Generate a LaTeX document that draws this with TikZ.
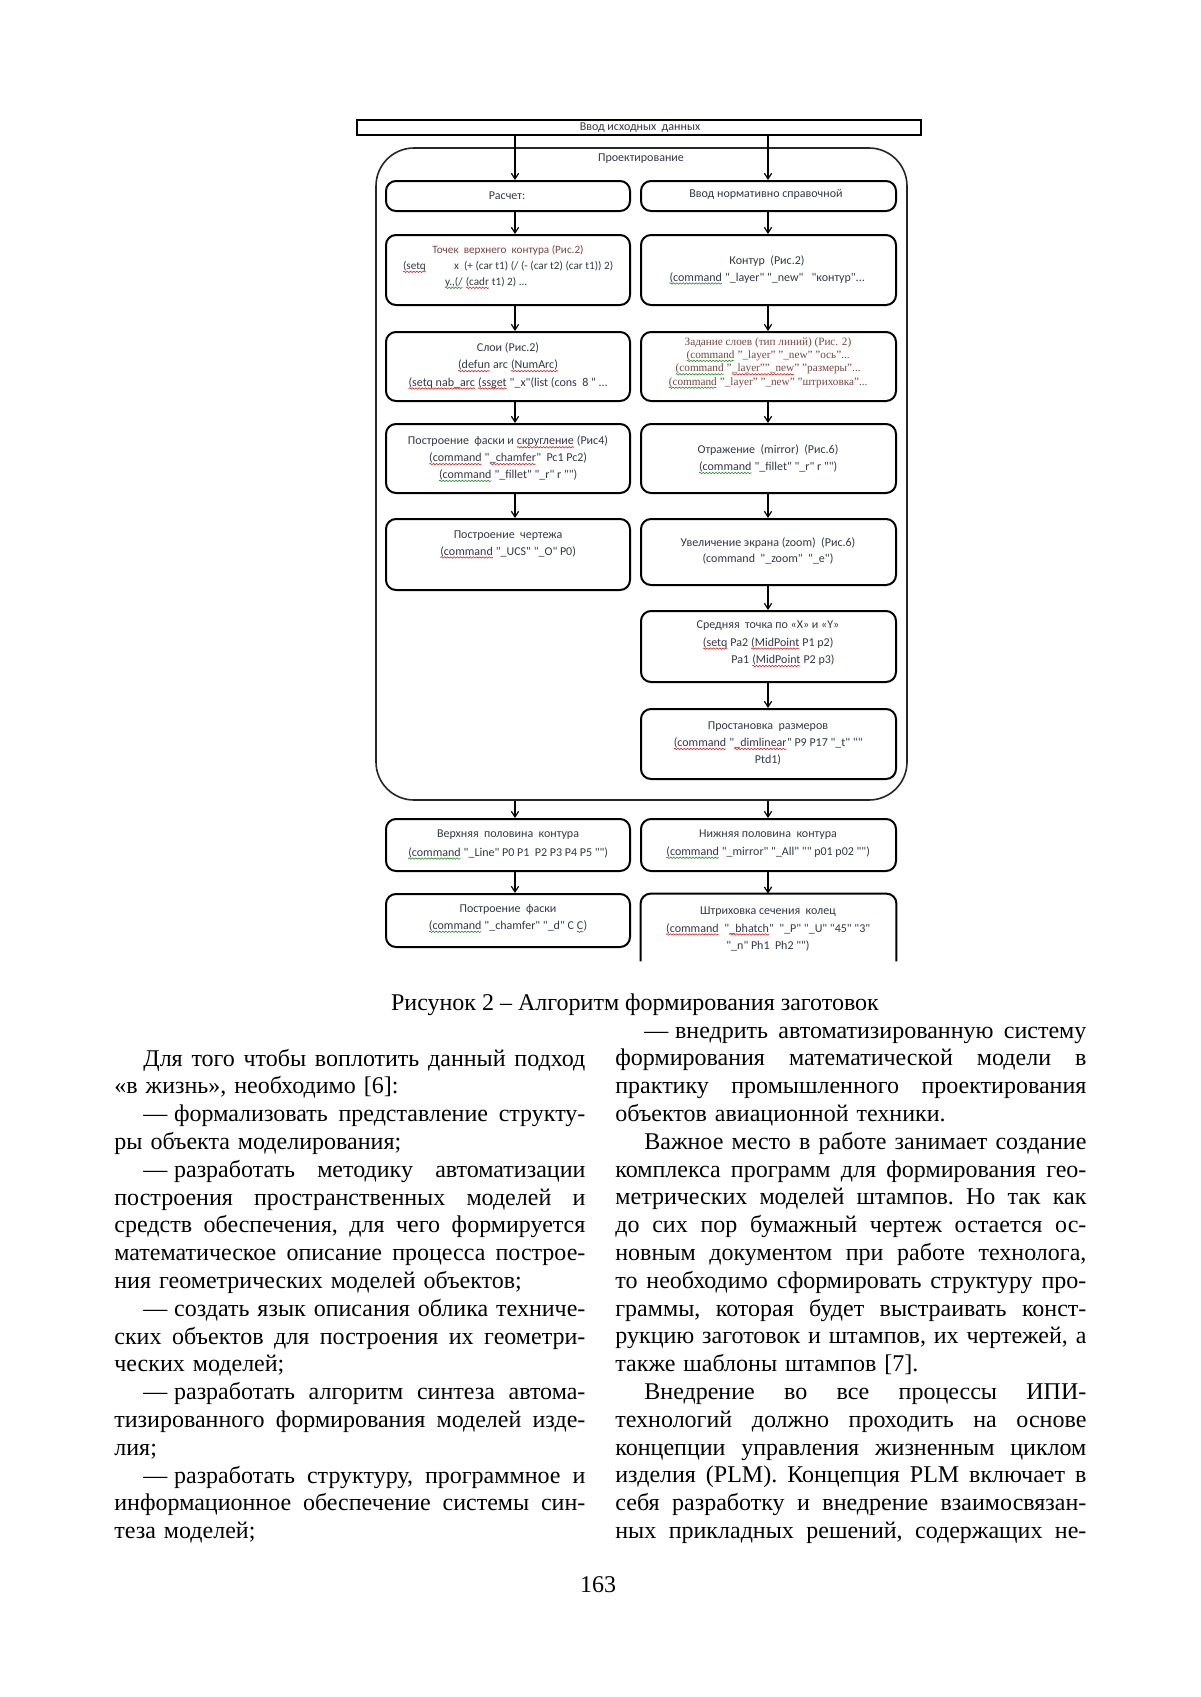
\documentclass[tikz,border=0pt]{standalone}
\usepackage{fontspec}
\setmainfont{Liberation Serif}
\newfontfamily\dfont{Carlito}
\usetikzlibrary{arrows.meta,decorations.pathmorphing}
\definecolor{dtc}{RGB}{50,55,75}
\definecolor{brn}{RGB}{120,70,60}
\definecolor{wgrn}{RGB}{40,140,40}
\definecolor{wred}{RGB}{225,30,30}
\newcommand\wv[2]{\tikz[baseline=(w.base),x=1pt,y=1pt]{\node[inner sep=0pt,outer sep=0pt] (w) {#2};\draw[#1,line width=0.3pt,decorate,decoration={snake,amplitude=0.35pt,segment length=1.6pt}] ([yshift=-1.2pt]w.base west) -- ([yshift=-1.2pt]w.base east);}}
\newcommand\rw[1]{\wv{wred}{#1}}
\newcommand\gw[1]{\wv{wgrn}{#1}}
\newlength\cw \setlength\cw{235.5pt}
\newlength\ind \setlength\ind{14.5pt}
\newcommand\jl[1]{\leavevmode\hbox to \cw{\spaceskip=0.25em plus 3em minus 0.08em\xspaceskip=\spaceskip\relax #1}}
\newcommand\ji[1]{\leavevmode\hspace*{\ind}\hbox to \dimexpr\cw-\ind\relax{\spaceskip=0.25em plus 3em minus 0.08em\xspaceskip=\spaceskip\relax #1}}
\newcommand\dsh{—\kern0.28em}
\newcommand\bx[5]{\node[box, minimum width={(#4-#2)*0.5pt}, minimum height={(#5-#3)*0.5pt}] (#1) at ({(#2+#4)/2},{(#3+#5)/2}) {};}
\tikzset{
  box/.style={draw=black, line width=1pt, rounded corners=5pt, inner sep=0pt},
  dtext/.style={font=\dfont\fontsize{6}{8.4}\selectfont, text=dtc, align=center, inner sep=0pt},
  stext/.style={font=\rmfamily\fontsize{5.6}{6.7}\selectfont, text=brn, align=center, inner sep=0pt},
  arr/.style={-{Straight Barb[length=2.8pt,width=3.6pt]}, line width=0.6pt},
  col/.style={anchor=base west, text width=\cw, inner sep=0pt, align=left, font=\fontsize{12}{13.9}\selectfont\frenchspacing},
}
\begin{document}
\begin{tikzpicture}[x=0.5pt,y=-0.5pt]
\fill[white] (0,0) rectangle (1200,1697);
\useasboundingbox (0,0) rectangle (1200,1697);
% top input box
\node[draw=black, line width=1.3pt, inner sep=0pt, minimum width={(921-357)*0.5pt}, minimum height={(135-120)*0.5pt}] (inp) at (639,127.5) {};
\node[dtext] (inpt) at (640,128) {Ввод исходных\ \ данных};
% container
\node[draw=black!85, line width=0.8pt, rounded corners=19pt, inner sep=0pt, minimum width={(907-376)*0.5pt}, minimum height={(800-148)*0.5pt}] (proj) at (641.5,474) {};
\node[dtext] (projt) at (641,159) {Проектирование};
% boxes
\bx{r1l}{386}{181}{630}{211}
\bx{r1r}{641}{181}{896}{211}
\bx{r2l}{386}{235}{630}{305}
\bx{r2r}{641}{235}{896}{305}
\bx{r3l}{386}{332}{630}{401}
\bx{r3r}{641}{332}{896}{401}
\bx{r4l}{386}{424}{630}{493}
\bx{r4r}{641}{424}{896}{493}
\bx{r5l}{386}{519}{630}{590}
\bx{r5r}{641}{519}{896}{585}
\bx{r6r}{641}{611}{896}{682}
\bx{r7r}{641}{709}{896}{779}
\bx{r8l}{386}{819}{630}{871}
\bx{r8r}{641}{819}{896}{871}
\bx{r9l}{386}{894}{630}{947}
\node[inner sep=0pt, minimum width={(896-641)*0.5pt}, minimum height={(961-894)*0.5pt}] (r9r) at (768.5,927.5) {};
\draw[line width=1pt, rounded corners=5pt] (r9r.south west) -- (r9r.north west) -- (r9r.north east) -- (r9r.south east);
% texts
\node[dtext] (t1l) at (507,196) {Расчет:};
\node[dtext] (t1r) at (766,194) {Ввод нормативно справочной};
\node[dtext, font=\dfont\fontsize{5.6}{8}\selectfont] (t2l) at (508,267) {\textcolor{brn}{Точек\ \ верхнего\ \ контура (Рис.2)}\\ \rw{(setq}\hspace{14pt}x\ \ (+ (car t1) (/ (- (car t2) (car t1)) 2)\\ \gw{y.,(/} \rw{(cadr} t1) 2) ...\hspace*{22pt}};
\node[dtext] (t2r) at (767,270) {Контур\ \ (Рис.2)\\ \gw{(command} "\_layer" "\_new"\ \ \ "контур"...};
\node[dtext, font=\dfont\fontsize{6}{8.7}\selectfont] (t3l) at (508,366) {Слои (Рис.2)\\ \rw{(defun} arc \rw{(NumArc)}\\ \rw{(setq nab\_arc} \rw{(ssget} "\_x"(list (cons\ \ 8 " ...};
\node[stext] (t3r) at (768,363) {Задание слоев (тип линий) (Рис. 2)\\ \gw{(command} "\_layer" "\_new" "ось"...\\ \gw{(command} "\rw{\_layer""\_new}" "размеры"...\\ \gw{(command} "\_layer" "\_new" "штриховка"...};
\node[dtext] (t4l) at (508,459) {Построение\ \ фаски и \rw{скругление} (Рис4)\\ \rw{(command} "\rw{\_chamfer}"\ \ Pc1 Pc2)\\ \gw{(command} "\_fillet" "\_r" r "")};
\node[dtext] (t4r) at (768,459.5) {Отражение\ \ (mirror)\ \ (Рис.6)\\ \gw{(command} "\_fillet" "\_r" r "")};
\node[dtext] (t5l) at (508,544.5) {Построение\ \ чертежа\\ \rw{(command} "\_UCS" "\_O" P0)};
\node[dtext] (t5r) at (768,551) {Увеличение экрана (zoom)\ \ (Рис.6)\\ (command\ \ "\_zoom"\ \ "\_e")};
\node[dtext, font=\dfont\fontsize{6}{8.7}\selectfont] (t6r) at (768,644) {Средняя\ \ точка по «X» и «Y»\\ \rw{(setq} Pa2 \rw{(MidPoint} P1 p2)\\ \hspace*{15pt}Pa1 \rw{(MidPoint} P2 p3)};
\node[dtext, font=\dfont\fontsize{6}{8.7}\selectfont] (t7r) at (768,743.5) {Простановка\ \ размеров\\ \rw{(command} "\rw{\_dimlinear}" P9 P17 "\_t" ""\\ Ptd1)};
\node[dtext, font=\dfont\fontsize{6}{9.5}\selectfont] (t8l) at (508,844.5) {Верхняя\ \ половина\ \ контура\\ \gw{(command} "\_Line" P0 P1\ \ P2 P3 P4 P5 "")};
\node[dtext, font=\dfont\fontsize{6}{8.7}\selectfont] (t8r) at (768,844.5) {Нижняя половина\ \ контура\\ \gw{(command} "\_mirror" "\_All" "" p01 p02 "")};
\node[dtext, font=\dfont\fontsize{6}{8.5}\selectfont] (t9l) at (508,918.5) {Построение\ \ фаски\\ \gw{(command} "\_chamfer" "\_d" C \rw{C})};
\node[dtext, font=\dfont\fontsize{6}{8.7}\selectfont] (t9r) at (768,929) {Штриховка сечения\ \ колец\\ \rw{(command}\ \ "\rw{\_bhatch}"\ \ "\_P" "\_U" "45" "3"\\ "\_n" Ph1\ \ Ph2 "")};
% arrows
\coordinate (lx) at (515,0);
\coordinate (rx) at (768,0);
\draw[arr] (inp.south -| lx) -- (r1l.north -| lx);
\draw[arr] (inp.south -| rx) -- (r1r.north -| rx);
\draw[arr] (r1l.south -| lx) -- (r2l.north -| lx);
\draw[arr] (r2l.south -| lx) -- (r3l.north -| lx);
\draw[arr] (r3l.south -| lx) -- (r4l.north -| lx);
\draw[arr] (r4l.south -| lx) -- (r5l.north -| lx);
\draw[arr] (r1r.south -| rx) -- (r2r.north -| rx);
\draw[arr] (r2r.south -| rx) -- (r3r.north -| rx);
\draw[arr] (r3r.south -| rx) -- (r4r.north -| rx);
\draw[arr] (r4r.south -| rx) -- (r5r.north -| rx);
\draw[arr] (r5r.south -| rx) -- (r6r.north -| rx);
\draw[arr] (r6r.south -| rx) -- (r7r.north -| rx);
\draw[arr] (proj.south -| lx) -- (r8l.north -| lx);
\draw[arr] (proj.south -| rx) -- (r8r.north -| rx);
\draw[arr] (r8l.south -| lx) -- (r9l.north -| lx);
\draw[arr] (r8r.south -| rx) -- (r9r.north -| rx);
% caption
\node[anchor=base, inner sep=0pt, font=\fontsize{12}{13.9}\selectfont] (cap) at (635,1010) {Рисунок 2 – Алгоритм формирования заготовок};
% left column
\node[col] (lcol) at (114,1066) {%
\ji{Для того чтобы воплотить данный подход}\\
«в жизнь», необходимо [6]:\\
\ji{\dsh формализовать представление структу-}\\
ры объекта моделирования;\\
\ji{\dsh разработать методику автоматизации}\\
\jl{построения пространственных моделей и}\\
\jl{средств обеспечения, для чего формируется}\\
\jl{математическое описание процесса построе-}\\
ния геометрических моделей объектов;\\
\ji{\dsh создать язык описания облика техниче-}\\
\jl{ских объектов для построения их геометри-}\\
ческих моделей;\\
\ji{\dsh разработать алгоритм синтеза автома-}\\
\jl{тизированного формирования моделей изде-}\\
лия;\\
\ji{\dsh разработать структуру, программное и}\\
\jl{информационное обеспечение системы син-}\\
теза моделей;};
% right column
\node[col] (rcol) at (615,1038) {%
\ji{\dsh внедрить автоматизированную систему}\\
\jl{формирования математической модели в}\\
\jl{практику промышленного проектирования}\\
объектов авиационной техники.\\
\ji{Важное место в работе занимает создание}\\
\jl{комплекса программ для формирования гео-}\\
\jl{метрических моделей штампов. Но так как}\\
\jl{до сих пор бумажный чертеж остается ос-}\\
\jl{новным документом при работе технолога,}\\
\jl{то необходимо сформировать структуру про-}\\
\jl{граммы, которая будет выстраивать конст-}\\
\jl{рукцию заготовок и штампов, их чертежей, а}\\
также шаблоны штампов [7].\\
\ji{Внедрение во все процессы ИПИ-}\\
\jl{технологий должно проходить на основе}\\
\jl{концепции управления жизненным циклом}\\
\jl{изделия (PLM). Концепция PLM включает в}\\
\jl{себя разработку и внедрение взаимосвязан-}\\
\jl{ных прикладных решений, содержащих не-}};
\node[anchor=base, inner sep=0pt, font=\fontsize{12}{13.9}\selectfont] (pg) at (598,1592) {163};
\end{tikzpicture}
\end{document}
